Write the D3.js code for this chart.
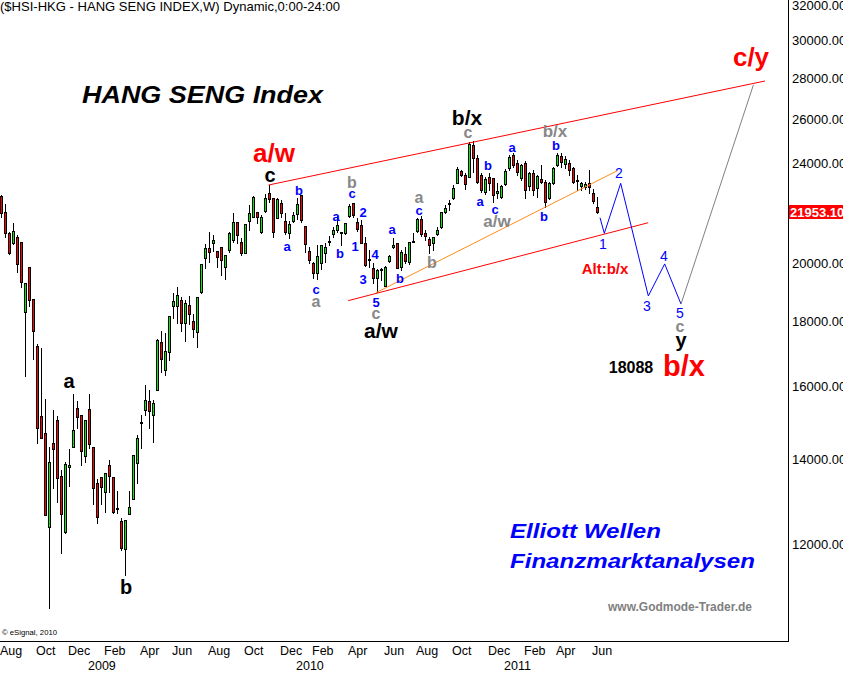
<!DOCTYPE html>
<html><head><meta charset="utf-8">
<script src="https://cdn.jsdelivr.net/npm/d3@7"></script>
<style>
body{margin:0;background:#fff;overflow:hidden}
svg{display:block;font-family:Arial,"Liberation Sans",sans-serif}
</style>
</head><body>
<svg id="chart" width="843" height="673"></svg>
<script>
// ---------------- DATA ----------------
const firstWeek = "2008-08-04"; // Monday of first weekly bar
const opens = [22600,21950,21130,20750,20980,20790,18300,19860,18740,17200,15150,14680,12380,14420,15040,13580,12270,13800,14320,15370,15180,14080,15340,14320,13410,13560,13190,13850,13560,12810,12510,11890,12670,13020,13900,14960,15310,15570,15180,15880,17330,16470,17020,18500,18500,18710,17940,18540,18000,17650,18980,20190,20560,20750,20450,20600,19860,20490,20860,21560,20790,20380,21600,21760,21950,21170,21990,22720,22520,21720,22320,21600,21130,21600,21870,22640,21400,20450,20010,19650,20010,20380,20830,21090,21250,21170,21130,21800,22320,21560,21440,20750,20160,19830,19470,19760,19190,20080,20600,20750,19860,20340,20050,20830,21210,21680,21130,20900,20750,21090,21360,21950,22310,22520,23140,23650,23480,23400,24800,24220,23480,22770,23400,23360,22720,22560,23100,23780,24350,24000,23360,24000,23020,23570,22930,23310,23190,22520,23140,23920,24310,23960,24000,23780,23270,23020,22980,23140,22720,22160];
const highs = [22644,22280,21170,21520,21050,20790,19290,19860,18740,17270,17140,15620,14320,15310,15150,13730,13930,14260,15760,15570,15180,15040,15760,14320,13510,13560,13660,13980,13560,13210,12580,12540,13210,14110,14630,15180,16030,15880,15600,17430,17680,17610,18170,18950,19160,18810,18710,18840,18240,18810,19970,20710,21170,21050,20450,20600,20300,21170,21910,21560,20940,21480,22240,22600,21950,21830,22680,23060,22520,22520,22440,21910,21600,21950,22520,22640,21400,20600,20050,20670,20670,20750,21020,21360,21800,21170,21520,22280,22320,21720,21640,20980,20500,20010,19790,19830,19900,20300,20940,20750,20490,20600,20790,21130,21720,21800,21250,20980,20980,21360,21950,22240,22440,23060,23830,23700,23570,24940,24990,24350,23570,23400,23570,23360,23140,23060,23740,24350,24440,24130,23960,24090,23610,23700,23480,23920,23270,23190,23830,24440,24440,24310,24130,23830,23480,23190,23190,23700,22890,22560];
const lows = [21750,20980,20340,20710,19680,19150,16290,18500,16800,14420,14550,12650,10680,13290,12950,11800,12240,13340,14320,14820,13850,13930,14290,12910,12460,12910,12720,13190,12700,12700,11870,11340,12670,13020,13410,14290,15180,14820,14450,15880,16410,16320,16770,18100,17940,17680,17360,17910,17490,17170,18950,19830,20050,20450,19860,19580,19430,20410,20790,20750,20300,20380,21250,21760,21520,21130,21950,22360,20980,21720,21760,21090,20940,21560,21680,21560,20410,20010,19470,19430,19790,20050,20670,20980,21170,20670,21090,21760,21760,21210,20750,19900,19850,19290,18980,19400,19190,20050,20560,19830,19760,20010,19970,20790,21170,21010,20860,20380,20490,21050,21320,21910,22030,22480,23140,23440,22890,23400,23610,23140,22770,22680,22850,22360,22520,22520,23060,23700,23830,23480,23270,22520,22850,22640,22560,23140,22160,22480,23100,23870,23830,23780,23480,23140,22850,22850,22890,22720,22320,21910];
const closes = [21930,21130,20380,21210,19970,19330,19290,18710,17680,14820,14550,12650,13930,14260,13530,12670,13880,13850,14770,15120,14210,15040,14390,13290,12610,13310,13660,13580,12720,12800,11910,12540,12840,14110,14550,14970,15600,15290,15510,17390,16800,17050,18170,18670,18880,17940,18600,18240,17740,18810,19970,20560,20410,20860,20230,20120,20300,21130,21560,21050,20380,21480,21910,22560,21760,21760,22520,22480,21170,22480,21910,21170,21480,21830,22280,21640,20710,20120,19650,20270,20670,20600,20840,21250,21440,21180,21520,22200,21830,21290,20750,19940,20150,19470,19760,19780,19860,20270,20670,19830,20410,20080,20790,20840,21680,21090,21010,20670,20980,21250,21950,22110,22330,22930,23740,23480,23100,24850,24220,23190,22850,23310,23140,22640,22810,23020,23650,24270,23920,23610,23920,22850,23570,22850,23440,23190,22360,23140,23780,24350,24040,24180,23700,23190,23230,23140,23100,22980,22400,21953];
const lastPrice = 21953.10;

const monthTicks = ["2008-08","2008-10","2008-12","2009-02","2009-04","2009-06","2009-08","2009-10","2009-12","2010-02","2010-04","2010-06","2010-08","2010-10","2010-12","2011-02","2011-04","2011-06"];
const yearTicks = ["2009","2010","2011"];
const priceTicks = [12000,14000,16000,18000,20000,24000,26000,28000,30000,32000];

// Elliott wave labels: [week offset from first bar, index value, text, kind]
const waveLabels = [
  [68.25,24443,"a/w","red"],[67.25,23483,"c","black"],[74.5,22850,"b","blue"],
  [71.5,20636,"a","blue"],[78.75,19084,"c","blue"],[78.75,18673,"a","gray"],
  [83.75,21795,"a","blue"],[84.75,20375,"b","blue"],[87.75,23186,"b","gray"],
  [87.75,22725,"c","blue"],[90.5,21954,"2","blue"],[88.5,20636,"1","blue"],
  [90.5,19433,"3","blue"],[93.5,20338,"4","blue"],[93.75,18640,"5","blue"],
  [93.75,18269,"c","gray"],[95,17713,"a/w","blackBig"],[97.75,21285,"a","blue"],
  [99.75,19468,"b","blue"],[104.5,22560,"a","gray"],[104.5,22034,"c","blue"],
  [107.75,20040,"b","gray"],[116.5,26097,"b/x","blackBig"],[116.75,25394,"c","gray"],
  [121.75,23915,"b","blue"],[119.75,22398,"a","blue"],[123.5,22074,"c","blue"],
  [124,21598,"a/w","gray"],[127.75,24711,"a","blue"],[138.5,25442,"b/x","gray"],
  [138.75,24802,"b","blue"],[135.75,21795,"b","blue"],
  [150.5,20712,"1","blueThin"],[154.5,23569,"2","blueThin"],[161.5,18503,"3","blueThin"],
  [165.75,20264,"4","blueThin"],[169.75,18269,"5","blueThin"],[169.75,17843,"c","gray"],
  [170,17394,"y","black"],[157.5,16560,"18088","num"],[170.75,16590,"b/x","redBig"],
  [151,19791,"Alt:b/x","redSmall"],[187.5,29107,"c/y","red"],
  [17,16144,"a","black"],[31.25,11097,"b","black"]
];

// trend lines: week offsets and index values
const upperChannelWeeks = [66.9, 191];      const upperChannelValues = [23059, 27864];
const lowerChannelWeeks = [86.8, 161.8];    const lowerChannelValues = [18683, 21530];
const orangeLineWeeks = [93.75, 154.1];     const orangeLineValues = [18956, 23668];
const projWeeks = [149.75,150.83,154.92,161.83,165.92,170];
const projValues = [21727,21120,23130,18843,19975,18570];
const finalLegWeeks = [170, 188.1];         const finalLegValues = [18570, 27663];

// ---------------- CHART ----------------
const W = 843, H = 673, plotR = 788, plotB = 641;
const DAY = 864e5;
const start = new Date(firstWeek + "T00:00:00Z");
const weekDate = w => new Date(start.getTime() + w * 7 * DAY);

const x = d3.scaleUtc().domain([weekDate(-0.25), weekDate(196.75)]).range([0, plotR]);
const y = d3.scaleLog().domain([10058, 32288]).range([plotB, 0]);
const xw = w => x(weekDate(w));

const svg = d3.select("#chart");
svg.append("rect").attr("width", W).attr("height", H).attr("fill", "#fff");

const styles = {
  blue:     {size:13, weight:"bold",   fill:"#0000ff"},
  blueThin: {size:14, weight:"normal", fill:"#0000ff"},
  gray:     {size:16, weight:"bold",   fill:"#888888"},
  black:    {size:20, weight:"bold",   fill:"#000"},
  blackBig: {size:21, weight:"bold",   fill:"#000"},
  red:      {size:26, weight:"bold",   fill:"#ff0000"},
  redBig:   {size:29, weight:"bold",   fill:"#ff0000"},
  redSmall: {size:15, weight:"bold",   fill:"#ff0000"},
  num:      {size:16, weight:"bold",   fill:"#000"}
};
const grayBig = {size:17, weight:"bold", fill:"#888888"};

// frame
svg.append("line").attr("x1", plotR + 0.5).attr("x2", plotR + 0.5).attr("y1", 0).attr("y2", plotB + 1)
  .attr("stroke", "#000").attr("stroke-width", 1);
svg.append("line").attr("x1", 0).attr("x2", plotR + 1).attr("y1", plotB + 0.5).attr("y2", plotB + 0.5)
  .attr("stroke", "#000").attr("stroke-width", 1);

const plot = svg.append("g");

// candles (pixel-exact: black wick, 3px black body outline, 1px coloured core)
const candles = opens.map((o, i) => ({date: weekDate(i), o, h: highs[i], l: lows[i], c: closes[i]}));
const cg = plot.append("g").attr("shape-rendering", "crispEdges");
candles.forEach(d => {
  const cx = Math.round(x(d.date));
  const yh = Math.round(y(d.h)), yl = Math.round(y(d.l));
  cg.append("rect").attr("x", cx).attr("y", yh).attr("width", 1).attr("height", yl - yh + 1).attr("fill", "#000");
  const top = Math.round(y(Math.max(d.o, d.c)));
  const bot = Math.round(y(Math.min(d.o, d.c)));
  const hgt = Math.max(2, bot - top + 1);
  cg.append("rect").attr("x", cx - 1).attr("y", top).attr("width", 3).attr("height", hgt).attr("fill", "#000");
  if (hgt > 2) {
    cg.append("rect").attr("x", cx).attr("y", top + 1).attr("width", 1).attr("height", hgt - 2)
      .attr("fill", d.c >= d.o ? "#00f000" : "#ff0000");
  }
});

// lines
const line = d3.line().x(d => xw(d[0])).y(d => y(d[1]));
const drawLine = (ws, vs, color) => plot.append("path")
  .datum(ws.map((w, i) => [w, vs[i]])).attr("d", line)
  .attr("fill", "none").attr("stroke", color).attr("stroke-width", 1);
drawLine(upperChannelWeeks, upperChannelValues, "#ff0000");
drawLine(lowerChannelWeeks, lowerChannelValues, "#ff0000");
drawLine(orangeLineWeeks, orangeLineValues, "#ff8c1a");
drawLine(projWeeks, projValues, "#0000ff");
drawLine(finalLegWeeks, finalLegValues, "#808080");

// wave labels
waveLabels.forEach(([w, v, t, kind]) => {
  let s = styles[kind];
  if (kind === "gray" && t.length > 1) s = grayBig;
  plot.append("text").attr("x", xw(w)).attr("y", y(v)).attr("dy", "0.36em")
    .attr("text-anchor", "middle").attr("font-size", s.size).attr("font-weight", s.weight)
    .attr("fill", s.fill).text(t);
});

// price axis
priceTicks.forEach(v => {
  svg.append("text").attr("x", plotR + 4).attr("y", y(v)).attr("dy", "0.36em")
    .attr("font-size", 13).attr("fill", "#000").text(d3.format(".2f")(v));
});
const ylp = y(lastPrice);
svg.append("rect").attr("x", plotR + 1).attr("y", Math.round(ylp) - 7).attr("width", W - plotR).attr("height", 14).attr("fill", "#ff0000");
svg.append("text").attr("x", plotR + 2).attr("y", ylp).attr("dy", "0.36em")
  .attr("font-size", 13).attr("font-weight", "bold").attr("fill", "#fff").text(d3.format(".2f")(lastPrice) + "9");

// time axis
const fmtMonth = d3.utcFormat("%b");
monthTicks.forEach(m => {
  const d = d3.utcMonday.ceil(new Date(m + "-01T00:00:00Z"));
  svg.append("text").attr("x", Math.max(0, x(d) - 1)).attr("y", 655)
    .attr("font-size", 12.5).attr("fill", "#000").text(fmtMonth(d));
});
yearTicks.forEach(yr => {
  const d = d3.utcMonday.ceil(new Date(yr + "-01-01T00:00:00Z"));
  svg.append("text").attr("x", x(d) - 1).attr("y", 670)
    .attr("font-size", 12.5).attr("fill", "#000").text(yr);
});

// titles and notes
svg.append("text").attr("x", 0).attr("y", 11).attr("font-size", 13)
  .attr("textLength", 340).attr("lengthAdjust", "spacingAndGlyphs")
  .text("($HSI-HKG - HANG SENG INDEX,W) Dynamic,0:00-24:00");
svg.append("text").attr("x", 82).attr("y", 103).attr("font-size", 24)
  .attr("font-weight", "bold").attr("font-style", "italic")
  .attr("textLength", 241).attr("lengthAdjust", "spacingAndGlyphs")
  .text("HANG SENG Index");
svg.append("text").attr("x", 510).attr("y", 538).attr("font-size", 20)
  .attr("font-weight", "bold").attr("font-style", "italic").attr("fill", "#0000ff")
  .attr("textLength", 151).attr("lengthAdjust", "spacingAndGlyphs")
  .text("Elliott Wellen");
svg.append("text").attr("x", 510).attr("y", 568).attr("font-size", 20)
  .attr("font-weight", "bold").attr("font-style", "italic").attr("fill", "#0000ff")
  .attr("textLength", 245).attr("lengthAdjust", "spacingAndGlyphs")
  .text("Finanzmarktanalysen");
svg.append("text").attr("x", 608).attr("y", 611).attr("font-size", 12)
  .attr("font-weight", "bold").attr("fill", "#808080")
  .attr("textLength", 144).attr("lengthAdjust", "spacingAndGlyphs")
  .text("www.Godmode-Trader.de");
svg.append("text").attr("x", 2).attr("y", 635).attr("font-size", 8)
  .attr("textLength", 55).attr("lengthAdjust", "spacingAndGlyphs")
  .text("© eSignal, 2010");
</script>
</body></html>
